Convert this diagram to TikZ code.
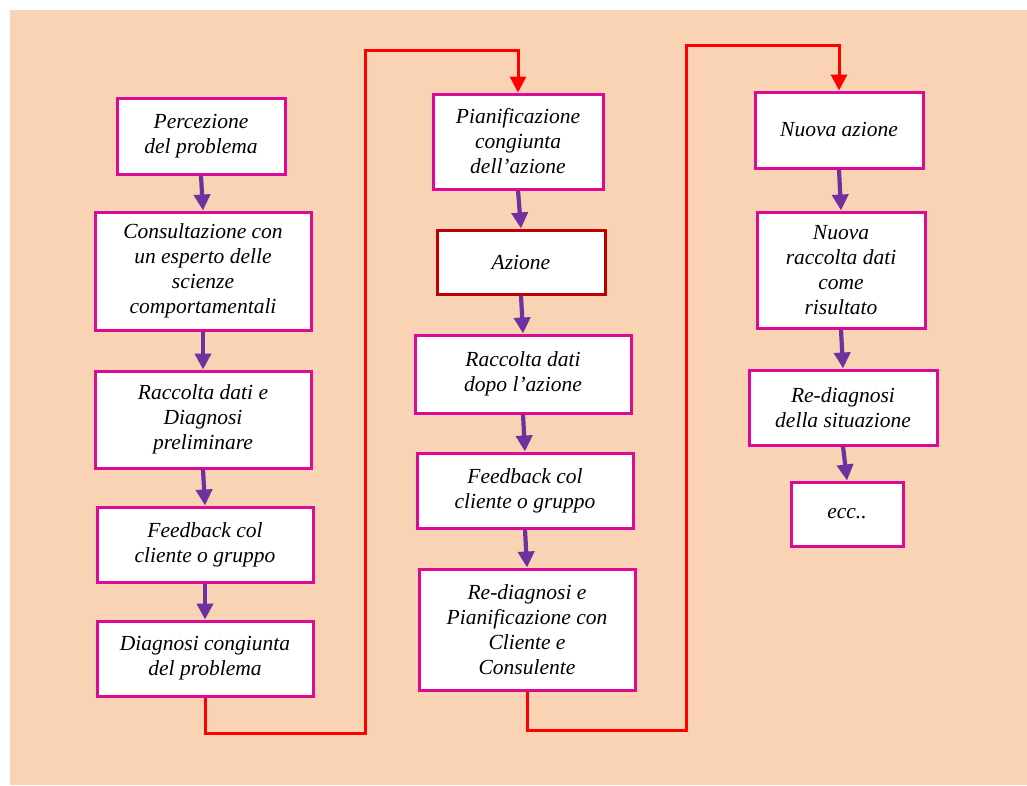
\documentclass[tikz,border=0pt]{standalone}
\usepackage{fontspec}
\setmainfont{Liberation Serif}
\usetikzlibrary{arrows.meta}
\definecolor{peach}{RGB}{250,211,180}
\definecolor{boxline}{RGB}{221,10,152}
\definecolor{darkred}{RGB}{192,0,0}
\definecolor{flowpurple}{RGB}{112,48,160}
\definecolor{loopred}{RGB}{255,0,0}
\begin{document}
\begin{tikzpicture}[x=1pt,y=-1pt,
  stepbox/.style={draw=boxline,line width=3pt,fill=white,align=center,
    inner sep=0pt,font=\fontsize{21.5}{25}\selectfont\itshape},
  flow/.style={draw=flowpurple,line width=4.2pt,
    -{Triangle[width=16pt,length=16pt]}},
  loop/.style={draw=loopred,line width=3pt,
    -{Triangle[width=16pt,length=16pt]}}]
\useasboundingbox (0,0) rectangle (1027,785);
\fill[peach] (10,10) rectangle (1027,785);

% first column
\node[stepbox,minimum width=168pt,minimum height=76pt] (p1) at (201,136)
  {Percezione\\del problema};
\node[stepbox,minimum width=216pt,minimum height=118pt] (p2) at (203,271)
  {Consultazione con\\un esperto delle\\scienze\\comportamentali};
\node[stepbox,minimum width=216pt,minimum height=97pt] (p3) at (203,419.5)
  {Raccolta dati e\\Diagnosi\\preliminare};
\node[stepbox,minimum width=216pt,minimum height=75pt] (p4) at (205,544.5)
  {Feedback col\\cliente o gruppo};
\node[stepbox,minimum width=216pt,minimum height=75pt] (p5) at (205,658.5)
  {Diagnosi congiunta\\del problema};

% second column
\node[stepbox,minimum width=170pt,minimum height=95pt] (q1) at (518,141.5)
  {Pianificazione\\congiunta\\dell'azione};
\node[stepbox,draw=darkred,minimum width=168pt,minimum height=64pt] (q2) at (521,262)
  {Azione};
\node[stepbox,minimum width=216pt,minimum height=78pt] (q3) at (523,374)
  {Raccolta dati\\dopo l'azione};
\node[stepbox,minimum width=216pt,minimum height=75pt] (q4) at (525,490.5)
  {Feedback col\\cliente o gruppo};
\node[stepbox,minimum width=216pt,minimum height=121pt] (q5) at (527,629.5)
  {Re-diagnosi e\\Pianificazione con\\Cliente e\\Consulente};

% third column
\node[stepbox,minimum width=168pt,minimum height=76pt] (r1) at (839,130)
  {Nuova azione};
\node[stepbox,minimum width=168pt,minimum height=116pt] (r2) at (841,270)
  {Nuova\\raccolta dati\\come\\risultato};
\node[stepbox,minimum width=188pt,minimum height=75pt] (r3) at (843,407.5)
  {Re-diagnosi\\della situazione};
\node[stepbox,minimum width=112pt,minimum height=64pt] (r4) at (847,514)
  {ecc..};

% arrows inside each column
\draw[flow] (p1.south) -- (p2.north);
\draw[flow] (p2.south) -- (p3.north);
\draw[flow] (p3.south) -- (p4.north);
\draw[flow] (p4.south) -- (p5.north);
\draw[flow] (q1.south) -- (q2.north);
\draw[flow] (q2.south) -- (q3.north);
\draw[flow] (q3.south) -- (q4.north);
\draw[flow] (q4.south) -- (q5.north);
\draw[flow] (r1.south) -- (r2.north);
\draw[flow] (r2.south) -- (r3.north);
\draw[flow] (r3.south) -- (r4.north);

% links from one column to the next
\coordinate (a1) at (365,733);
\coordinate (a2) at (365,50);
\coordinate (b1) at (686,730);
\coordinate (b2) at (686,45);
\draw[loop] (p5.south) |- (a1) -- (a2) -| (q1.north);
\draw[loop] (q5.south) |- (b1) -- (b2) -| (r1.north);
\end{tikzpicture}
\end{document}
